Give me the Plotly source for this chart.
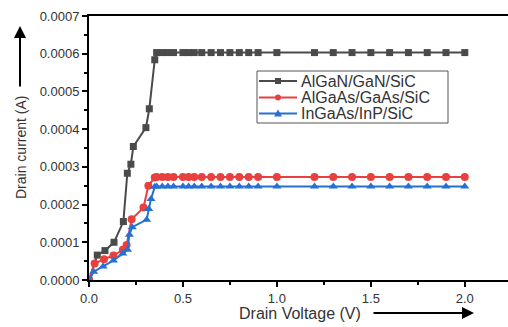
import plotly.graph_objects as go

# Drain voltage (V) and drain current (A)
v_gan = [0, 0.044, 0.085, 0.133, 0.183, 0.204, 0.223, 0.236, 0.303, 0.321, 0.35,
         0.36, 0.39, 0.42, 0.45, 0.5, 0.53, 0.56, 0.6, 0.65, 0.7, 0.75, 0.8, 0.85, 0.9,
         1.0, 1.2, 1.3, 1.4, 1.5, 1.6, 1.7, 1.8, 1.9, 2.0]
i_gan = [0, 6.6e-5, 7.8e-5, 1.0e-4, 1.55e-4, 2.83e-4, 3.07e-4, 3.54e-4, 4.04e-4, 4.54e-4, 5.84e-4,
         6.03e-4, 6.03e-4, 6.03e-4, 6.03e-4, 6.03e-4, 6.03e-4, 6.03e-4, 6.03e-4, 6.03e-4, 6.03e-4,
         6.03e-4, 6.03e-4, 6.03e-4, 6.03e-4, 6.03e-4, 6.03e-4, 6.03e-4, 6.03e-4, 6.03e-4, 6.03e-4,
         6.03e-4, 6.03e-4, 6.03e-4, 6.03e-4]

v_gaas = [0, 0.03, 0.08, 0.13, 0.18, 0.2, 0.227, 0.29, 0.316, 0.35,
          0.36, 0.39, 0.42, 0.45, 0.5, 0.53, 0.56, 0.6, 0.65, 0.7, 0.75, 0.8, 0.85, 0.9,
          1.0, 1.2, 1.3, 1.4, 1.5, 1.6, 1.7, 1.8, 1.9, 2.0]
i_gaas = [0, 4.4e-5, 5.5e-5, 6.5e-5, 8.0e-5, 9.3e-5, 1.61e-4, 1.92e-4, 2.5e-4, 2.72e-4,
          2.73e-4, 2.73e-4, 2.73e-4, 2.73e-4, 2.73e-4, 2.73e-4, 2.73e-4, 2.73e-4, 2.73e-4, 2.73e-4,
          2.73e-4, 2.73e-4, 2.73e-4, 2.73e-4, 2.73e-4, 2.73e-4, 2.73e-4, 2.73e-4, 2.73e-4, 2.73e-4,
          2.73e-4, 2.73e-4, 2.73e-4, 2.73e-4]

v_inp = [0, 0.025, 0.075, 0.13, 0.18, 0.205, 0.215, 0.23, 0.307, 0.318, 0.33, 0.35,
         0.36, 0.39, 0.42, 0.45, 0.5, 0.53, 0.56, 0.6, 0.65, 0.7, 0.75, 0.8, 0.85, 0.9,
         1.0, 1.2, 1.3, 1.4, 1.5, 1.6, 1.7, 1.8, 1.9, 2.0]
i_inp = [0, 2.2e-5, 3.6e-5, 5.2e-5, 7.0e-5, 8.0e-5, 1.2e-4, 1.4e-4, 1.6e-4, 1.88e-4, 2.15e-4, 2.47e-4,
         2.48e-4, 2.48e-4, 2.48e-4, 2.48e-4, 2.48e-4, 2.48e-4, 2.48e-4, 2.48e-4, 2.48e-4, 2.48e-4,
         2.48e-4, 2.48e-4, 2.48e-4, 2.48e-4, 2.48e-4, 2.48e-4, 2.48e-4, 2.48e-4, 2.48e-4, 2.48e-4,
         2.48e-4, 2.48e-4, 2.48e-4, 2.48e-4]

names = ["AlGaN/GaN/SiC", "AlGaAs/GaAs/SiC", "InGaAs/InP/SiC"]
colors = ["#4a4a4a", "#e8403f", "#2570d4"]
x_ticks = [0.0, 0.5, 1.0, 1.5, 2.0]
y_ticks = [0.0, 0.0001, 0.0002, 0.0003, 0.0004, 0.0005, 0.0006, 0.0007]

FONT = "Liberation Sans, Arial, sans-serif"
TXT = "#333333"

fig = go.Figure()
fig.add_trace(go.Scatter(x=v_gan, y=i_gan, name=names[0], mode="lines+markers",
                         line=dict(color=colors[0], width=2),
                         marker=dict(symbol="square", size=7, color=colors[0])))
fig.add_trace(go.Scatter(x=v_gaas, y=i_gaas, name=names[1], mode="lines+markers",
                         line=dict(color=colors[1], width=2),
                         marker=dict(symbol="circle", size=8, color=colors[1])))
fig.add_trace(go.Scatter(x=v_inp, y=i_inp, name=names[2], mode="lines+markers",
                         line=dict(color=colors[2], width=2),
                         marker=dict(symbol="triangle-up", size=8, color=colors[2])))

L, R, T, B = 89, 0, 16, 47
W, H = 508, 327
pw, ph = W - L - R, H - T - B

def px(x):
    return (x - L) / pw

def py(y):
    return (H - B - y) / ph

fig.update_layout(
    width=W, height=H,
    margin=dict(l=L, r=R, t=T, b=B),
    paper_bgcolor="white", plot_bgcolor="white",
    font=dict(family=FONT, color=TXT),
    showlegend=False,
    xaxis=dict(range=[0, 2.23], tickvals=x_ticks, tickformat=".1f",
               showgrid=False, zeroline=False, showline=True, linecolor="black",
               linewidth=2, mirror=True, ticks="outside", ticklen=5, tickwidth=1.5,
               tickcolor="black", tickfont=dict(size=13, color=TXT),
               minor=dict(dtick=0.25, ticks="outside", ticklen=3, tickcolor="black", tickwidth=1.5)),
    yaxis=dict(range=[0, 0.0007], tickvals=y_ticks, tickformat=".4f",
               showgrid=False, zeroline=False, showline=True, linecolor="black",
               linewidth=2, ticks="outside", ticklen=5, tickwidth=1.5,
               tickcolor="black", tickfont=dict(size=13, color=TXT),
               minor=dict(dtick=0.00005, ticks="outside", ticklen=3, tickcolor="black", tickwidth=1.5)),
)

# Manual legend box (matches the reference's compact box)
shapes = [dict(type="rect", xref="paper", yref="paper", x0=px(257), x1=px(448),
               y0=py(123), y1=py(71), line=dict(color="#555555", width=1), fillcolor="white",
               layer="above")]
rows = [81, 97.5, 113.5]
mx = 278
for k, (nm, col, yy) in enumerate(zip(names, colors, rows)):
    shapes.append(dict(type="line", xref="paper", yref="paper", x0=px(259), x1=px(297),
                       y0=py(yy), y1=py(yy), line=dict(color=col, width=2), layer="above"))
    if k == 0:
        shapes.append(dict(type="rect", xref="paper", yref="paper", x0=px(mx - 3), x1=px(mx + 3),
                           y0=py(yy + 3), y1=py(yy - 3), line=dict(width=0), fillcolor=col, layer="above"))
    elif k == 1:
        shapes.append(dict(type="circle", xref="paper", yref="paper", x0=px(mx - 3), x1=px(mx + 3),
                           y0=py(yy + 3), y1=py(yy - 3), line=dict(width=0), fillcolor=col, layer="above"))
    else:
        path = "M {},{} L {},{} L {},{} Z".format(px(mx - 4), py(yy + 3), px(mx + 4), py(yy + 3),
                                                  px(mx), py(yy - 4))
        shapes.append(dict(type="path", xref="paper", yref="paper", path=path,
                           line=dict(width=0), fillcolor=col, layer="above"))
    fig.add_annotation(xref="paper", yref="paper", x=px(299), y=py(yy), xanchor="left",
                       yanchor="middle", text=nm, showarrow=False,
                       font=dict(size=16, color=TXT, family=FONT))
fig.update_layout(shapes=shapes)

# Axis titles with arrows
fig.add_annotation(xref="paper", yref="paper", x=px(21), y=py(148), xanchor="center",
                   yanchor="middle", text="Drain current (A)",
                   textangle=-90, showarrow=False, font=dict(size=14, color=TXT, family=FONT))
fig.add_annotation(xref="paper", yref="paper", x=px(20), y=py(26), ax=0, ay=62,
                   text="", showarrow=True, arrowhead=2, arrowsize=1.2, arrowwidth=2, arrowcolor="black")
fig.add_annotation(xref="paper", yref="paper", x=px(300), y=py(313), xanchor="center",
                   yanchor="middle", text="Drain Voltage (V)",
                   showarrow=False, font=dict(size=16, color=TXT, family=FONT))
fig.add_annotation(xref="paper", yref="paper", x=px(474), y=py(313), ax=-102, ay=0,
                   text="", showarrow=True, arrowhead=2, arrowsize=1.2, arrowwidth=2, arrowcolor="black")

fig.write_html("out.html")
